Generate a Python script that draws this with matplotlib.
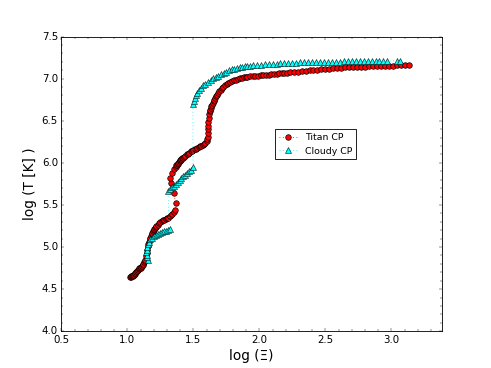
import matplotlib
matplotlib.use("Agg")
import matplotlib.pyplot as plt
from matplotlib.ticker import AutoMinorLocator

# Titan CP curve
titan_x = [1.021, 1.025, 1.03, 1.035, 1.04, 1.045, 1.05, 1.055, 1.06, 1.065, 1.07, 1.075,
           1.08, 1.085, 1.09, 1.095, 1.10, 1.105, 1.11, 1.115, 1.12, 1.125, 1.13,
           1.135, 1.14, 1.145, 1.15, 1.155, 1.16, 1.165, 1.17, 1.175, 1.18, 1.185, 1.19,
           1.195, 1.20, 1.205, 1.21, 1.215, 1.22,
           1.23, 1.24, 1.25, 1.26, 1.27, 1.28, 1.29, 1.30, 1.31, 1.32, 1.33, 1.34,
           1.35, 1.358,
           1.365, 1.352, 1.33, 1.325, 1.335, 1.35,
           1.365, 1.37, 1.375, 1.38, 1.385, 1.39, 1.395, 1.40, 1.405, 1.41, 1.415, 1.42,
           1.43, 1.44, 1.45, 1.46, 1.47, 1.48,
           1.49, 1.50, 1.51, 1.52, 1.53, 1.54, 1.55, 1.56, 1.57, 1.58, 1.59, 1.60,
           1.605,
           1.61, 1.611, 1.611, 1.612, 1.614, 1.616, 1.62,
           1.624, 1.628, 1.632, 1.637, 1.642, 1.648, 1.654, 1.66, 1.667, 1.674, 1.682,
           1.69, 1.698, 1.707, 1.717, 1.728, 1.74, 1.752, 1.765, 1.778, 1.792, 1.806,
           1.82, 1.835, 1.85, 1.865, 1.88, 1.895, 1.91, 1.93, 1.95, 1.97, 1.99, 2.01,
           2.03, 2.05, 2.07, 2.09, 2.11, 2.13, 2.15, 2.17, 2.19, 2.21, 2.23, 2.26,
           2.29, 2.32, 2.35, 2.38, 2.41, 2.44, 2.47, 2.50, 2.53, 2.56, 2.59, 2.62,
           2.65, 2.68, 2.71, 2.74, 2.77, 2.80, 2.83, 2.86, 2.89, 2.92, 2.95, 2.98,
           3.01, 3.04, 3.07, 3.10, 3.133]
titan_y = [4.64, 4.645, 4.65, 4.655, 4.66, 4.665, 4.67, 4.68, 4.69, 4.70, 4.71, 4.72,
           4.73, 4.738, 4.745, 4.75, 4.755, 4.765, 4.775, 4.787, 4.80, 4.817, 4.835,
           4.85, 4.89, 4.93, 4.97, 5.01, 5.04, 5.065, 5.09, 5.11, 5.13, 5.15, 5.17,
           5.185, 5.20, 5.213, 5.225, 5.237, 5.25,
           5.265, 5.28, 5.295, 5.305, 5.315, 5.32, 5.33, 5.34, 5.35, 5.365, 5.38, 5.395,
           5.42, 5.44,
           5.52, 5.64, 5.76, 5.82, 5.88, 5.93,
           5.955, 5.97, 5.98, 5.99, 6.00, 6.01, 6.02, 6.03, 6.037, 6.045, 6.052, 6.06,
           6.075, 6.085, 6.10, 6.11, 6.12, 6.135,
           6.145, 6.155, 6.165, 6.17, 6.18, 6.19, 6.20, 6.205, 6.215, 6.225, 6.24, 6.26,
           6.28,
           6.31, 6.35, 6.40, 6.44, 6.49, 6.53, 6.58,
           6.61, 6.63, 6.65, 6.67, 6.69, 6.71, 6.73, 6.75, 6.77, 6.79, 6.81,
           6.83, 6.85, 6.87, 6.89, 6.905, 6.92, 6.935, 6.948, 6.96, 6.97, 6.98,
           6.99, 6.998, 7.005, 7.01, 7.015, 7.02, 7.023, 7.027, 7.03, 7.033, 7.036, 7.039,
           7.042, 7.045, 7.048, 7.052, 7.056, 7.06, 7.064, 7.067, 7.07, 7.073, 7.076, 7.08,
           7.085, 7.09, 7.095, 7.10, 7.104, 7.108, 7.112, 7.116, 7.12, 7.124, 7.127, 7.13,
           7.133, 7.136, 7.138, 7.14, 7.142, 7.144, 7.146, 7.148, 7.15, 7.152, 7.153, 7.155,
           7.156, 7.158, 7.16, 7.161, 7.163]

# Cloudy CP curve
cloudy_x = [1.154, 1.150, 1.146, 1.144, 1.145, 1.150, 1.157, 1.165, 1.175, 1.19, 1.205,
            1.22, 1.235, 1.25, 1.265, 1.28, 1.295, 1.31, 1.32,
            1.307, 1.32, 1.335, 1.35, 1.365, 1.38, 1.395, 1.41, 1.425, 1.44, 1.455,
            1.47, 1.485, 1.497,
            1.497, 1.505, 1.51, 1.52, 1.53, 1.545, 1.56, 1.575, 1.59, 1.61, 1.63, 1.65,
            1.67, 1.69, 1.71, 1.73, 1.75, 1.77, 1.79, 1.81, 1.83, 1.85, 1.87, 1.89,
            1.91, 1.93, 1.95, 1.98, 2.01, 2.04, 2.07, 2.10, 2.13, 2.16, 2.19, 2.22,
            2.25, 2.28, 2.31, 2.34, 2.37, 2.40, 2.43, 2.46, 2.49, 2.52, 2.55, 2.58,
            2.61, 2.64, 2.67, 2.70, 2.73, 2.76, 2.79, 2.82, 2.85, 2.88, 2.91, 2.94,
            2.97, 3.04, 3.065]
cloudy_y = [4.85, 4.88, 4.91, 4.94, 4.97, 5.00, 5.03, 5.06, 5.09, 5.11, 5.13,
            5.145, 5.155, 5.165, 5.175, 5.185, 5.19, 5.20, 5.21,
            5.66, 5.69, 5.71, 5.73, 5.75, 5.775, 5.80, 5.82, 5.84, 5.86, 5.88,
            5.90, 5.92, 5.95,
            6.70, 6.74, 6.77, 6.80, 6.83, 6.86, 6.89, 6.92, 6.94, 6.965, 6.985, 7.005,
            7.02, 7.035, 7.05, 7.065, 7.078, 7.10, 7.11, 7.12, 7.128, 7.135, 7.14, 7.145,
            7.15, 7.155, 7.16, 7.165, 7.168, 7.171, 7.174, 7.177, 7.18, 7.182, 7.184, 7.186,
            7.188, 7.19, 7.192, 7.194, 7.195, 7.196, 7.197, 7.198, 7.199, 7.2, 7.201, 7.202,
            7.203, 7.204, 7.205, 7.206, 7.206, 7.207, 7.207, 7.208, 7.208, 7.209, 7.209, 7.21,
            7.21, 7.212, 7.214]

plt.style.use("classic")
fig = plt.figure(figsize=(8, 6), dpi=61.375)
ax = fig.add_subplot(111)

ax.plot(titan_x, titan_y, "r:", marker="o", markersize=6.5, markeredgecolor="k",
        markeredgewidth=0.8, label="Titan CP")
ax.plot(cloudy_x, cloudy_y, ":", color="cyan", marker="^", markersize=6.5,
        markeredgecolor="k", markeredgewidth=0.6, label="Cloudy CP")

ax.set_xlim(0.5, 3.383)
ax.set_ylim(4.0, 7.5)
ax.xaxis.set_minor_locator(AutoMinorLocator(5))
ax.yaxis.set_minor_locator(AutoMinorLocator(5))
ax.set_xlabel("log (\u039e)", fontsize=16)
ax.set_ylabel("log (T [K] )", fontsize=16)

ax.legend(loc="upper left", bbox_to_anchor=(0.562, 0.686), borderaxespad=0,
          numpoints=1, fontsize=11)

fig.savefig("out.png", dpi=61.375)
